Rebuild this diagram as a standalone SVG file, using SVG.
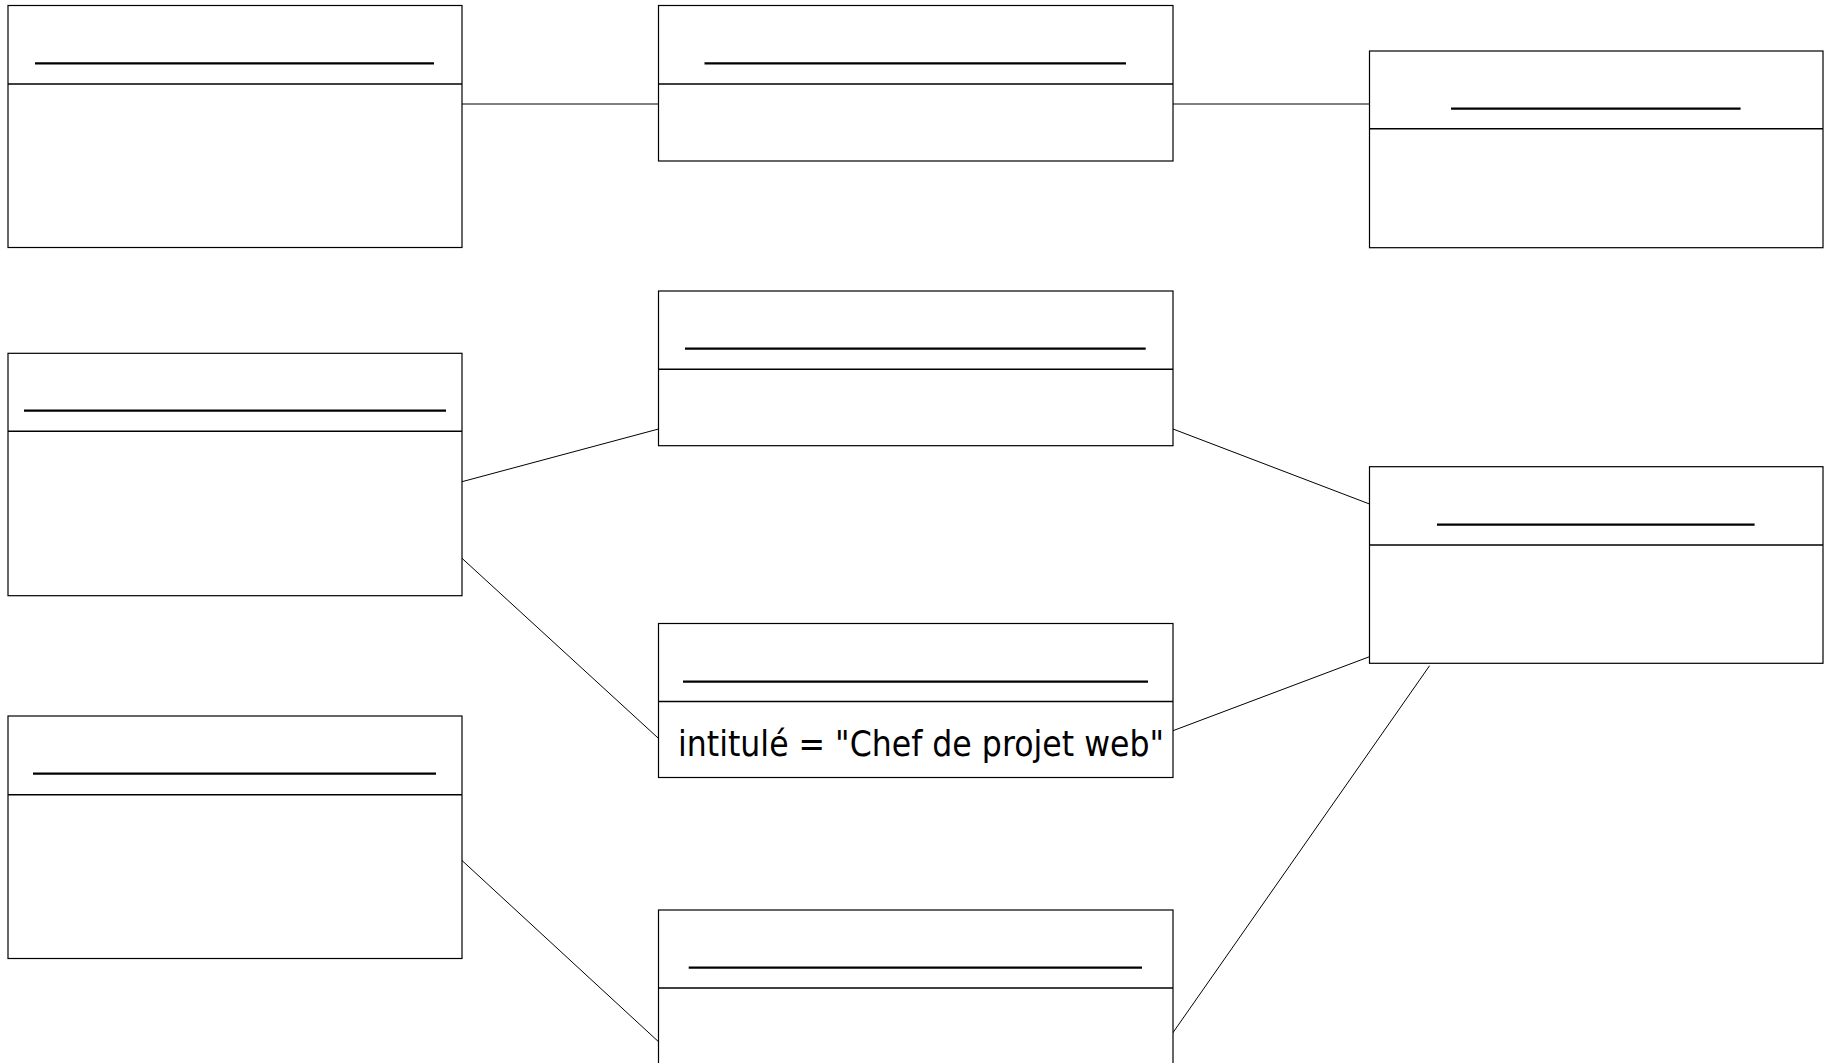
<svg xmlns="http://www.w3.org/2000/svg" width="1832" height="1063" viewBox="0 0 1832 1063">
<style>
.box{fill:#fff;stroke:#000;stroke-width:1.2}
.div{stroke:#000;stroke-width:1.6}
.ul{stroke:#000;stroke-width:2.2}
.conn{stroke:#000;stroke-width:1;fill:none}
.attr{font-family:"DejaVu Sans","Liberation Sans",sans-serif;font-size:35px;fill:#000}
</style>
<rect width="1832" height="1063" fill="#fff"/>
<g id="connectors">
<line class="conn" x1="462" y1="104" x2="658.5" y2="104"/>
<line class="conn" x1="1173" y1="104" x2="1369.5" y2="104"/>
<line class="conn" x1="462" y1="481.7" x2="658.5" y2="429"/>
<line class="conn" x1="462" y1="558.3" x2="658.5" y2="738.4"/>
<line class="conn" x1="1173" y1="429" x2="1369.5" y2="504"/>
<line class="conn" x1="1173" y1="730.7" x2="1369.5" y2="656.7"/>
<line class="conn" x1="462" y1="860.5" x2="658.5" y2="1041.7"/>
<line class="conn" x1="1172.5" y1="1033.3" x2="1429.6" y2="665.7"/>
</g>
<g id="nodeA">
<rect class="box" x="8" y="5.5" width="454" height="242"/>
<line class="div" x1="8" y1="84" x2="462" y2="84"/>
<line class="ul" x1="35" y1="63.3" x2="434" y2="63.3"/>
</g>
<g id="nodeB">
<rect class="box" x="658.5" y="5.5" width="514.5" height="155.5"/>
<line class="div" x1="658.5" y1="84" x2="1173" y2="84"/>
<line class="ul" x1="704.5" y1="63.3" x2="1126" y2="63.3"/>
</g>
<g id="nodeC">
<rect class="box" x="1369.5" y="51" width="453.5" height="196.7"/>
<line class="div" x1="1369.5" y1="128.7" x2="1823" y2="128.7"/>
<line class="ul" x1="1451" y1="108.7" x2="1740.6" y2="108.7"/>
</g>
<g id="nodeD">
<rect class="box" x="8" y="353.3" width="454" height="242.4"/>
<line class="div" x1="8" y1="431.3" x2="462" y2="431.3"/>
<line class="ul" x1="24" y1="410.7" x2="446" y2="410.7"/>
</g>
<g id="nodeE">
<rect class="box" x="658.5" y="291" width="514.5" height="154.7"/>
<line class="div" x1="658.5" y1="369.3" x2="1173" y2="369.3"/>
<line class="ul" x1="685" y1="348.7" x2="1145.7" y2="348.7"/>
</g>
<g id="nodeF">
<rect class="box" x="1369.5" y="466.7" width="453.5" height="196.6"/>
<line class="div" x1="1369.5" y1="545" x2="1823" y2="545"/>
<line class="ul" x1="1437" y1="524.7" x2="1754.6" y2="524.7"/>
</g>
<g id="nodeG">
<rect class="box" x="658.5" y="623.5" width="514.5" height="154"/>
<line class="div" x1="658.5" y1="701.5" x2="1173" y2="701.5"/>
<line class="ul" x1="683" y1="681.7" x2="1148" y2="681.7"/>
<text class="attr" x="678" y="756" textLength="486" lengthAdjust="spacingAndGlyphs">intitulé = "Chef de projet web"</text>
</g>
<g id="nodeH">
<rect class="box" x="8" y="716" width="454" height="242.5"/>
<line class="div" x1="8" y1="794.7" x2="462" y2="794.7"/>
<line class="ul" x1="33" y1="773.7" x2="436" y2="773.7"/>
</g>
<g id="nodeI">
<rect class="box" x="658.5" y="910" width="514.5" height="156"/>
<line class="div" x1="658.5" y1="988" x2="1173" y2="988"/>
<line class="ul" x1="688.7" y1="967.7" x2="1142" y2="967.7"/>
</g>
</svg>
